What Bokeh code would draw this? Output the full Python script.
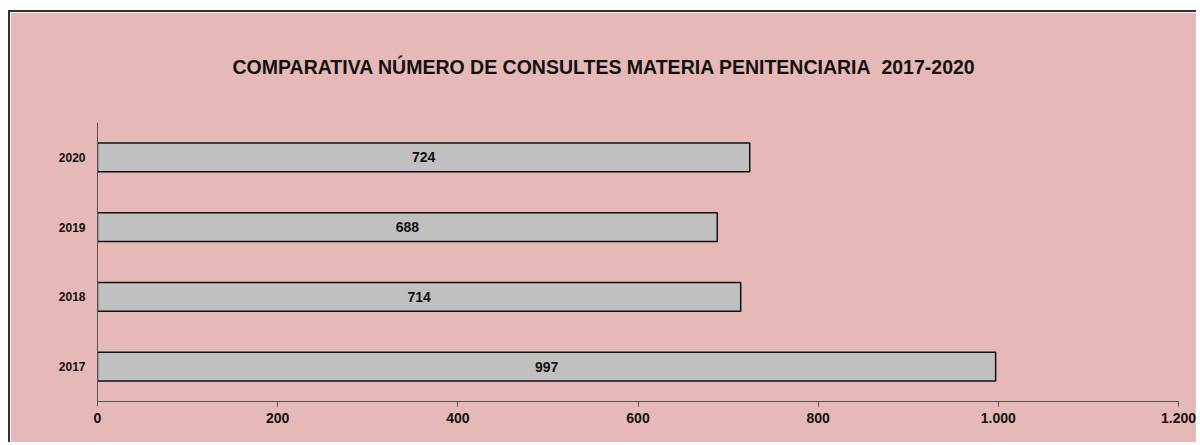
from bokeh.plotting import figure
from bokeh.models import ColumnDataSource, FixedTicker, Range1d, FactorRange, LabelSet
from bokeh.core.properties import value
from bokeh.embed import file_html
from bokeh.resources import INLINE

title = "COMPARATIVA NÚMERO DE CONSULTES MATERIA PENITENCIARIA  2017-2020"
years = ["2017", "2018", "2019", "2020"]
consultes = [997, 714, 688, 724]
x_ticks = [0, 200, 400, 600, 800, 1000, 1200]
x_tick_labels = ["0", "200", "400", "600", "800", "1.000", "1.200"]

FONT = "Liberation Sans"
BG = "#E6B8B7"

src = ColumnDataSource(dict(
    y=years,
    v=consultes,
    mid=[c / 2 for c in consultes],
    lab=[str(c) for c in consultes],
))

p = figure(width=1188, height=432, output_backend="svg", toolbar_location=None,
           y_range=FactorRange(*years, range_padding=0), x_range=Range1d(0, 1200))
p.styles = {"margin": "10px 0 0 8px", "border-top": "2px solid #333",
            "border-left": "2px solid #333"}
p.background_fill_color = BG
p.border_fill_color = BG
p.outline_line_color = BG
p.outline_line_width = 2
p.min_border_left = 87
p.min_border_right = 20
p.min_border_top = 110
p.min_border_bottom = 43

p.title.text = title.replace("  ", "\u00a0 ")
p.title.align = "left"
p.title.offset = 135
p.title.vertical_align = "top"
p.title.text_font = FONT
p.title.text_font_size = "19.5px"
p.title.text_font_style = "bold"
p.title.text_color = "#111111"
p.title.standoff = 86

p.hbar(y="y", right="v", left=0, height=0.41, source=src,
       fill_color="#C0C0C0", line_color="#111111", line_width=1.5)

labels = LabelSet(x="mid", y="y", text="lab", source=src,
                  text_align="center", text_baseline="middle",
                  text_font=value(FONT), text_font_size="14px",
                  text_font_style="bold", text_color="#111111")
p.add_layout(labels)

p.xgrid.visible = False
p.ygrid.visible = False

p.xaxis.ticker = FixedTicker(ticks=x_ticks)
p.xaxis.major_label_overrides = {t: l for t, l in zip(x_ticks, x_tick_labels)}
p.xaxis.minor_tick_line_color = None
p.xaxis.major_tick_in = 0
p.xaxis.major_tick_out = 5
p.yaxis.major_tick_in = 0
p.yaxis.major_tick_out = 0
p.yaxis.minor_tick_line_color = None
for ax in (p.xaxis, p.yaxis):
    ax.axis_line_color = "#555555"
    ax.major_tick_line_color = "#555555"
    ax.major_label_text_font = FONT
    ax.major_label_text_font_style = "bold"
    ax.major_label_text_color = "#111111"
p.xaxis.major_label_text_font_size = "14px"
p.yaxis.major_label_text_font_size = "12px"
p.yaxis.major_label_standoff = 12
p.xaxis.major_label_standoff = 6

open("out.html", "w").write(file_html(p, INLINE))
